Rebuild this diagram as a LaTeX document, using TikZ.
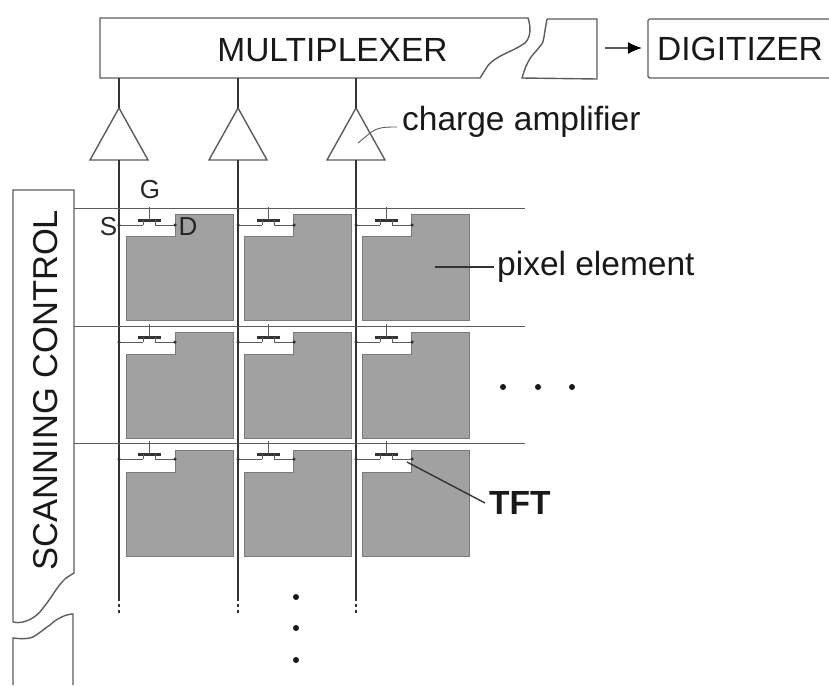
\documentclass[tikz,border=0pt]{standalone}
\usepackage{fontspec}
\setmainfont{Liberation Sans}
\usetikzlibrary{arrows.meta}
\definecolor{pix}{gray}{0.63}
\definecolor{ink}{gray}{0.2}
\tikzset{
  x=1pt,y=-1pt,
  wire/.style={draw=ink,line width=1.2pt},
  thin wire/.style={draw=ink!80,line width=0.9pt},
  outline/.style={draw=ink!80,line width=1.4pt},
  lab/.style={inner sep=0pt,text=black!90,font=\fontsize{33.5}{33.5}\selectfont},
  small lab/.style={inner sep=0pt,text=black!85,font=\fontsize{26}{26}\selectfont},
  dotmark/.style={circle,fill=ink,inner sep=0pt,minimum size=3.5pt},
}
\begin{document}
\begin{tikzpicture}
\useasboundingbox (0,0) rectangle (829,685);
% multiplexer
\draw[outline] (100,78) -- (100,18) -- (528,18) .. controls (531,27) and (531,37) .. (525,43) .. controls (515,50) and (505,53) .. (497,58) .. controls (492,61) and (488,65) .. (487,67) -- (480,78) -- cycle;
\draw[outline] (547,19) -- (597,19) -- (597,79) -- (522,78) .. controls (525,68) and (527,63) .. (531,57) .. controls (538,48) and (544,44) .. (544,37) .. controls (545,30) and (546,25) .. (547,19);
\node[lab] (mux) at (332.5,50) {MULTIPLEXER};
\draw[outline,rounded corners=1.5pt] (829,19) -- (648,19) -- (648,78) -- (829,78);
\node[lab] (dig) at (740,49) {DIGITIZER};
\coordinate (arrowstart) at (605,48);
\coordinate (arrowend) at (642,48);
\draw[draw=ink!80,line width=1.5pt,-{Latex[length=14pt,width=12pt,black]}] (arrowstart) -- (arrowend);
% scanning control
\draw[outline] (13,622) -- (13,190) -- (74,190) -- (74,573) .. controls (66,578) and (64,579) .. (62,582) .. controls (55,590) and (50,600) .. (43,608) .. controls (38,616) and (25,625) .. (13,622);
\draw[outline] (13,685) -- (13,638) .. controls (22,639) and (28,639) .. (33,637) .. controls (40,633) and (45,628) .. (50,625) .. controls (55,620) and (65,614) .. (73,614) -- (73,685);
\node[lab,rotate=90,font=\fontsize{34.5}{34.5}\selectfont] (scan) at (46,390) {SCANNING CONTROL};
% pixels
\foreach \cx/\px in {1/126,2/244,3/362}{
  \foreach \ry/\py in {1/214,2/332,3/450}{
    \fill[pix,draw=ink!65,line width=1pt] (\px,{\py+22}) -- ({\px+49},{\py+22}) -- ({\px+49},\py) -- ({\px+107},\py) -- ({\px+107},{\py+106}) -- (\px,{\py+106}) -- cycle;
  }
}
% lines
\foreach \x/\n in {119/a,238/b,356/c}{
  \draw[outline] (\x,108) -- ({\x+29},160) -- ({\x-29},160) -- cycle;
  \draw[wire] (\x,78) -- (\x,108);
  \draw[wire] (\x,160) -- (\x,598);
  \draw[wire,dash pattern=on 3pt off 3pt] (\x,598) -- (\x,613);
}
\foreach \y in {208.5,326,443}{
  \draw[thin wire] (74,\y) -- (525,\y);
}
% TFTs
\foreach \x in {119,238,356}{
  \foreach \y in {209,326,443}{
    \draw[thin wire] (\x,{\y+16}) -- ({\x+56},{\y+16});
    \fill[white] ({\x+24},{\y+15}) rectangle ({\x+36},{\y+17});
    \draw[ink,line width=3.2pt] ({\x+19},{\y+11.5}) -- ({\x+42},{\y+11.5});
    \draw[thin wire] ({\x+30},{\y-2}) -- ({\x+30},{\y+11});
    \draw[thin wire] ({\x+24},{\y+11}) -- ({\x+24},{\y+16}) ({\x+36},{\y+11}) -- ({\x+36},{\y+16});
    \node[dotmark] at (\x,{\y+16}) {};
    \node[dotmark] at ({\x+56},{\y+16}) {};
  }
}
\node[small lab] (g) at (150,190) {G};
\node[small lab] (s) at (108.5,227) {S};
\node[small lab] (d) at (188,227) {D};
% labels
\node[lab,anchor=west] (amp) at (402,122) {charge amplifier};
\coordinate (ampT) at (358,143);
\draw[thin wire] (397,127) .. controls (385,127) and (378,127) .. (370,133) -- (ampT);
\node[lab,anchor=west] (pe) at (497,267) {pixel element};
\coordinate (peT) at (435,267);
\draw[ink,line width=1.2pt] (pe.west) ++(-3,0) -- (peT);
\node[lab,anchor=west,font=\bfseries\fontsize{33.5}{33.5}\selectfont] (tft) at (489,503) {TFT};
\coordinate (tftT) at (407,462);
\draw[ink,line width=1.4pt] (485,503) -- (tftT);
% ellipses
\foreach \x in {503,538,572}{\fill[black!90] (\x,387) circle (3pt);}
\foreach \y in {597,628,660}{\fill[black!90] (296,\y) circle (3pt);}
\end{tikzpicture}
\end{document}
